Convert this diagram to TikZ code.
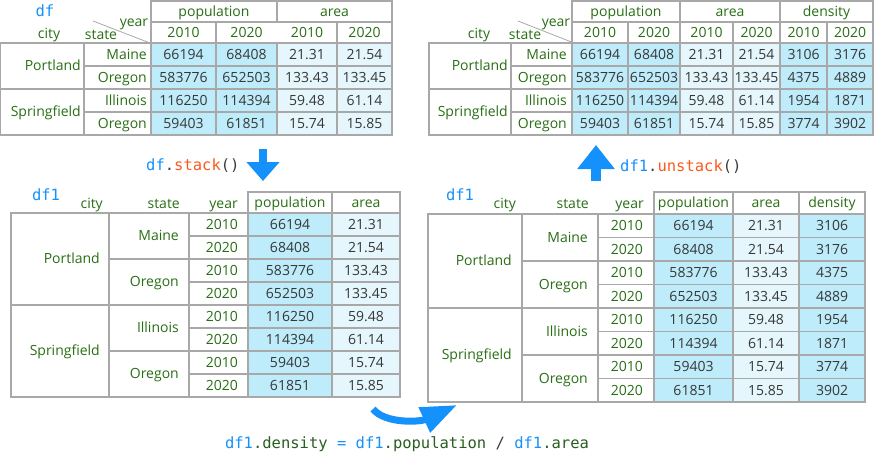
\documentclass[tikz,border=0pt]{standalone}
\usepackage{fontspec}
\setmainfont{Open Sans}
\setmonofont{DejaVu Sans Mono}
\usetikzlibrary{positioning,arrows.meta}
\definecolor{lblgreen}{RGB}{40,110,20}
\definecolor{numgray}{RGB}{55,55,55}
\definecolor{gridgray}{RGB}{168,168,168}
\definecolor{cellhot}{RGB}{190,236,250}
\definecolor{cellcold}{RGB}{229,247,253}
\definecolor{codeblue}{RGB}{20,145,250}
\definecolor{codeorange}{RGB}{250,90,30}
\definecolor{codegray}{RGB}{60,60,60}
\definecolor{codegreen}{RGB}{40,95,30}
\begin{document}
\begin{tikzpicture}[x=1pt,y=-1pt,
    lbl/.style={text=lblgreen,font=\fontsize{14}{16}\selectfont,inner sep=0pt,text height=10.5pt,text depth=1pt},
    num/.style={text=numgray,font=\fontsize{14}{16}\selectfont,inner sep=0pt,text height=10.5pt,text depth=1pt},
    code/.style={font=\fontsize{15.5}{18}\selectfont\ttfamily,inner sep=0pt,text height=12pt,text depth=1pt},
    tabline/.style={draw=gridgray,line width=1.2pt},
    slash/.style={draw=gridgray,line width=0.8pt},
    blockarrow/.style={draw=codeblue,line width=8pt,-{Triangle[width=32pt,length=19pt]}}]
    \useasboundingbox (0,0) rectangle (875,451);

    % top left: df
    \fill[cellhot] (151,43) rectangle (277,135);
    \fill[cellcold] (277,43) rectangle (392,135);
    \draw[tabline] (151,1) rectangle (392,43) (151,22) -- (392,22) (277,1) -- (277,22);
    \draw[tabline] (216,22) -- (216,43) (337,22) -- (337,43);
    \draw[tabline] (0.5,43) rectangle (392,135) (0.5,89) -- (392,89);
    \foreach \y in {66,112} \draw[tabline] (84,\y) -- (392,\y);
    \foreach \x in {84,151,216,277,337} \draw[tabline] (\x,43) -- (\x,135);
    \draw[slash] (93,21) -- (150,43);
    \node[code,text=codeblue] (tl-name) at (45,11) {df};
    \node[lbl] (tl-city) at (49,34) {city};
    \node[lbl] (tl-state) at (101,35) {state};
    \node[lbl] (tl-year) at (134,22) {year};
    \node[lbl] (tl-pop) at (214,12) {population};
    \node[lbl] (tl-area) at (334.5,12) {area};
    \foreach \x/\yr [count=\i] in {183.5/2010,246.5/2020,307/2010,364.5/2020}
        \node[lbl] (tl-yr\i) at (\x,33) {\yr};
    \node[lbl,anchor=east] (tl-portland) at (81,66) {Portland};
    \node[lbl,anchor=east] (tl-springfield) at (81,112) {Springfield};
    \foreach \st/\pa/\pb/\aa/\ab [count=\i from 0] in {Maine/66194/68408/21.31/21.54,Oregon/583776/652503/133.43/133.45,Illinois/116250/114394/59.48/61.14,Oregon/59403/61851/15.74/15.85}{
        \pgfmathsetmacro\ry{54.5+23*\i}
        \node[lbl,anchor=east] (tl-st\i) at (147,\ry) {\st};
        \node[num] (tl-pa\i) at (183.5,\ry) {\pa};
        \node[num] (tl-pb\i) at (246.5,\ry) {\pb};
        \node[num] (tl-aa\i) at (307,\ry) {\aa};
        \node[num] (tl-ab\i) at (364.5,\ry) {\ab};
    }

    % top right: df1 unstacked
    \fill[cellhot] (572,43) rectangle (680,135);
    \fill[cellcold] (680,43) rectangle (780,135);
    \fill[cellhot] (780,43) rectangle (873,135);
    \draw[tabline] (572,1) rectangle (873,43) (572,22) -- (873,22);
    \foreach \x in {680,780} \draw[tabline] (\x,1) -- (\x,43);
    \foreach \x in {628,733,827} \draw[tabline] (\x,22) -- (\x,43);
    \draw[tabline] (429,43) rectangle (873,135) (429,89) -- (873,89);
    \foreach \y in {66,112} \draw[tabline] (511,\y) -- (873,\y);
    \foreach \x in {511,572,628,680,733,780,827} \draw[tabline] (\x,43) -- (\x,135);
    \draw[slash] (518,21) -- (574,43);
    \node[lbl] (tr-city) at (479,34) {city};
    \node[lbl] (tr-state) at (525,35) {state};
    \node[lbl] (tr-year) at (556,22) {year};
    \node[lbl] (tr-pop) at (626,12) {population};
    \node[lbl] (tr-area) at (730,12) {area};
    \node[lbl] (tr-dens) at (826.5,12) {density};
    \foreach \x/\yr [count=\i] in {600/2010,654/2020,706.5/2010,756.5/2020,803.5/2010,850/2020}
        \node[lbl] (tr-yr\i) at (\x,33) {\yr};
    \node[lbl,anchor=east] (tr-portland) at (508,66) {Portland};
    \node[lbl,anchor=east] (tr-springfield) at (508,112) {Springfield};
    \foreach \st/\pa/\pb/\aa/\ab/\da/\db [count=\i from 0] in {Maine/66194/68408/21.31/21.54/3106/3176,Oregon/583776/652503/133.43/133.45/4375/4889,Illinois/116250/114394/59.48/61.14/1954/1871,Oregon/59403/61851/15.74/15.85/3774/3902}{
        \pgfmathsetmacro\ry{54.5+23*\i}
        \node[lbl,anchor=east] (tr-st\i) at (567,\ry) {\st};
        \node[num] (tr-pa\i) at (600,\ry) {\pa};
        \node[num] (tr-pb\i) at (654,\ry) {\pb};
        \node[num] (tr-aa\i) at (706.5,\ry) {\aa};
        \node[num] (tr-ab\i) at (756.5,\ry) {\ab};
        \node[num] (tr-da\i) at (803.5,\ry) {\da};
        \node[num] (tr-db\i) at (850,\ry) {\db};
    }

    % bottom left: df1 stacked
    \fill[cellhot] (248,213) rectangle (332,397);
    \fill[cellcold] (332,213) rectangle (400,397);
    \draw[tabline] (248,192) rectangle (400,213) (332,192) -- (332,213);
    \draw[tabline] (11,213) rectangle (400,397) (11,305) -- (400,305);
    \foreach \y in {259,351} \draw[tabline] (109,\y) -- (400,\y);
    \foreach \y in {236,282,328,374} \draw[tabline] (189,\y) -- (400,\y);
    \foreach \x in {109,189,248,332} \draw[tabline] (\x,213) -- (\x,397);
    \node[code,text=codeblue] (bl-name) at (46,195) {df1};
    \node[lbl,anchor=east] (bl-city) at (103,204) {city};
    \node[lbl,anchor=east] (bl-state) at (180,204) {state};
    \node[lbl,anchor=east] (bl-year) at (238,204) {year};
    \node[lbl] (bl-pop) at (290,203) {population};
    \node[lbl] (bl-area) at (366,203) {area};
    \node[lbl,anchor=east] (bl-portland) at (100,259) {Portland};
    \node[lbl,anchor=east] (bl-springfield) at (100,351) {Springfield};
    \foreach \st [count=\i from 0] in {Maine,Oregon,Illinois,Oregon}
        \node[lbl,anchor=east] (bl-st\i) at (179,236+46*\i) {\st};
    \foreach \yr/\pop/\ar [count=\i from 0] in {2010/66194/21.31,2020/68408/21.54,2010/583776/133.43,2020/652503/133.45,2010/116250/59.48,2020/114394/61.14,2010/59403/15.74,2020/61851/15.85}{
        \pgfmathsetmacro\ry{224.5+23*\i}
        \node[lbl,anchor=east] (bl-yr\i) at (238,\ry) {\yr};
        \node[num] (bl-pop\i) at (290,\ry) {\pop};
        \node[num] (bl-ar\i) at (366,\ry) {\ar};
    }

    % bottom right: df1 with density
    \fill[cellhot] (654,214) rectangle (733,402);
    \fill[cellcold] (733,214) rectangle (799,402);
    \fill[cellhot] (799,214) rectangle (865,402);
    \draw[tabline] (654,192) rectangle (865,214) (733,192) -- (733,214) (799,192) -- (799,214);
    \draw[tabline] (428,214) rectangle (865,402) (428,308) -- (865,308);
    \foreach \y in {261,355} \draw[tabline] (522,\y) -- (865,\y);
    \foreach \y in {237.5,284.5,331.5,378.5} \draw[tabline] (598,\y) -- (865,\y);
    \foreach \x in {522,598,654,733,799} \draw[tabline] (\x,214) -- (\x,402);
    \node[code,text=codeblue] (br-name) at (460,195) {df1};
    \node[lbl,anchor=east] (br-city) at (516,204) {city};
    \node[lbl,anchor=east] (br-state) at (589,204) {state};
    \node[lbl,anchor=east] (br-year) at (644,204) {year};
    \node[lbl] (br-pop) at (693.5,203) {population};
    \node[lbl] (br-area) at (766,203) {area};
    \node[lbl] (br-dens) at (832,203) {density};
    \node[lbl,anchor=east] (br-portland) at (512,261) {Portland};
    \node[lbl,anchor=east] (br-springfield) at (512,355) {Springfield};
    \foreach \st [count=\i from 0] in {Maine,Oregon,Illinois,Oregon}
        \node[lbl,anchor=east] (br-st\i) at (588,237.5+47*\i) {\st};
    \foreach \yr/\pop/\ar/\dn [count=\i from 0] in {2010/66194/21.31/3106,2020/68408/21.54/3176,2010/583776/133.43/4375,2020/652503/133.45/4889,2010/116250/59.48/1954,2020/114394/61.14/1871,2010/59403/15.74/3774,2020/61851/15.85/3902}{
        \pgfmathsetmacro\ry{225.75+23.5*\i}
        \node[lbl,anchor=east] (br-yr\i) at (643,\ry) {\yr};
        \node[num] (br-pop\i) at (693.5,\ry) {\pop};
        \node[num] (br-ar\i) at (766,\ry) {\ar};
        \node[num] (br-dn\i) at (832,\ry) {\dn};
    }

    % operations
    \node[code,anchor=west] (stack) at (146,165) {{\color{codeblue}df}{\color{codegray}.}{\color{codeorange}stack}{\color{codegray}()}};
    \node[code,anchor=west] (unstack) at (620,166) {{\color{codeblue}df1}{\color{codegray}.}{\color{codeorange}unstack}{\color{codegray}()}};
    \node[code] (density) at (407,443) {{\color{codeblue}df1}{\color{codegreen}.density}\ {\color{codeblue}=}\ {\color{codeblue}df1}{\color{codegreen}.population}\ {\color{codegray}/}\ {\color{codeblue}df1}{\color{codegreen}.area}};
    \coordinate (stackTop) at (263,149);
    \coordinate (stackTip) at (263,181);
    \coordinate (unstackFoot) at (596,181);
    \coordinate (unstackTip) at (596,145);
    \coordinate (curveStart) at (373,409);
    \coordinate (curveTip) at (457,405);
    \draw[blockarrow] (stackTop) -- (stackTip);
    \draw[blockarrow,line width=10pt,-{Triangle[width=36pt,length=24pt]}] (unstackFoot) -- (unstackTip);
    \draw[blockarrow,line width=7pt,-{Triangle[width=26pt,length=36pt]}] (curveStart) .. controls (385,424) and (420,422) .. (curveTip);
\end{tikzpicture}
\end{document}
